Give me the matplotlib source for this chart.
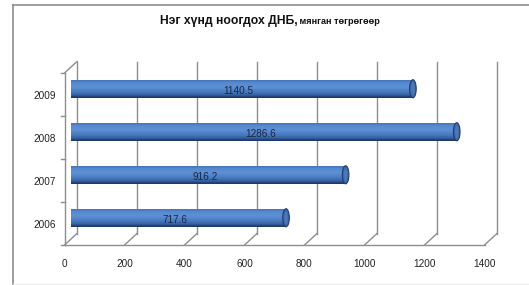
import matplotlib
matplotlib.use("Agg")
import matplotlib.pyplot as plt
import numpy as np
from matplotlib.transforms import offset_copy
from matplotlib.patches import Rectangle, Ellipse
from matplotlib.colors import LinearSegmentedColormap
from matplotlib.lines import Line2D

# ---- data ----
categories = ["2006", "2007", "2008", "2009"]
values = [717.6, 916.2, 1286.6, 1140.5]
value_labels = ["717.6", "916.2", "1286.6", "1140.5"]
xticks = [0, 200, 400, 600, 800, 1000, 1200, 1400]
title_main = "Нэг хүнд ноогдох ДНБ,"
title_sub = " мянган төгрөгөөр"

W, H = 529, 285
fig = plt.figure(figsize=(W / 100, H / 100), dpi=100)
plt.rcParams['font.family'] = ['Liberation Sans', 'DejaVu Sans']

def fx(px):
    return px / W

def fy(py):
    return 1 - py / H

# outer chart border
fig.add_artist(Line2D([fx(12.5), fx(12.5)], [fy(4.5), fy(285)], color="#8c8c8c", lw=1.2))
fig.add_artist(Line2D([fx(12.5), 1], [fy(4.5), fy(4.5)], color="#8c8c8c", lw=1.2))
fig.add_artist(Line2D([fx(12.5), 1], [fy(284), fy(284)], color="#eeeeee", lw=1))

# axes (front plane)
ax_l, ax_r, ax_top, ax_bot = 64.5, 484.5, 73, 245
ax = fig.add_axes([fx(ax_l), fy(ax_bot), (ax_r - ax_l) / W, (ax_bot - ax_top) / H])
ax.set_xlim(0, 1400)
ax.set_ylim(-0.5, 3.5)
ax.axis("off")

DX, DY = 12.5, 11.5
back = offset_copy(ax.transData, fig=fig, x=DX, y=DY, units="dots")
mid = offset_copy(ax.transData, fig=fig, x=DX / 2, y=DY / 2, units="dots")
gc = "#8e8e8e"
glw = 1.0

ymin, ymax = -0.5, 3.5
# back wall gridlines
for xt in xticks:
    ax.plot([xt, xt], [ymin, ymax], transform=back, color=gc, lw=glw, zorder=1, clip_on=False)
# floor diagonals from front tick to back
for xt in xticks:
    p0 = ax.transData.transform((xt, ymin))
    p1 = back.transform((xt, ymin))
    ax.add_line(Line2D([p0[0], p1[0]], [p0[1], p1[1]], transform=None, color=gc, lw=glw,
                       zorder=1, clip_on=False))
# left wall top diagonal
p0 = ax.transData.transform((0, ymax))
p1 = back.transform((0, ymax))
ax.add_line(Line2D([p0[0], p1[0]], [p0[1], p1[1]], transform=None, color=gc, lw=glw, zorder=1, clip_on=False))
# front axes lines
ax.plot([0, 1400], [ymin, ymin], color=gc, lw=glw, zorder=2, clip_on=False)
ax.plot([0, 0], [ymin, ymax], color=gc, lw=glw, zorder=2, clip_on=False)
# y ticks (outward)
for b in np.arange(ymin, ymax + 0.01, 1.0):
    p = ax.transData.transform((0, b))
    ax.add_line(Line2D([p[0] - 4, p[0]], [p[1], p[1]], transform=None, color=gc, lw=glw, clip_on=False))

# bars (cylinders) in mid plane
cmap = LinearSegmentedColormap.from_list("cyl", [
    (0.0, "#1c3560"), (0.10, "#2c5290"), (0.30, "#4476bc"), (0.60, "#5e90d6"),
    (0.85, "#5688cf"), (1.0, "#4070b2")])
bh = 0.42
nstrip = 28
cap_w = 22  # data units
for i, v in enumerate(values):
    y0 = i - bh / 2
    for k in range(nstrip):
        t = (k + 0.5) / nstrip
        ax.add_patch(Rectangle((0, y0 + k * bh / nstrip), v, bh / nstrip * 1.05,
                               transform=mid, facecolor=cmap(t), edgecolor="none",
                               zorder=5, clip_on=False))
    ax.add_patch(Ellipse((v, i), cap_w, bh, transform=mid, facecolor="#3d6aa8",
                         edgecolor="#1f3d6e", lw=0.8, zorder=6, clip_on=False))
    ax.add_patch(Ellipse((v, i), cap_w * 0.5, bh * 0.7, transform=mid, facecolor="#4a78b8",
                         edgecolor="none", zorder=6, clip_on=False))
    lab_tr = offset_copy(ax.transData, fig=fig, x=3, y=3.5, units="dots")
    ax.text(v / 2, i, value_labels[i], transform=lab_tr, ha="center", va="center",
            fontsize=7.2, color="#1a2740", zorder=7)

# y labels
for i, c in enumerate(categories):
    ax.text(-30, i, c, ha="right", va="center", fontsize=7.2, color="#222222",
            transform=offset_copy(ax.transData, fig=fig, x=0, y=-1.5, units="dots"), clip_on=False)
# x labels
for xt in xticks:
    ax.text(xt, ymin, str(xt), ha="center", va="center", fontsize=7.2, color="#222222",
            transform=offset_copy(ax.transData, fig=fig, x=0, y=-19, units="dots"), clip_on=False)

# title
fig.text(fx(298), fy(21), title_main, ha="right", va="center", fontsize=8.7,
         fontweight="bold", color="#111111")
fig.text(fx(297), fy(22), title_sub, ha="left", va="center", fontsize=6.6,
         fontweight="bold", color="#111111")

fig.savefig("out.png", dpi=100, facecolor="white")
